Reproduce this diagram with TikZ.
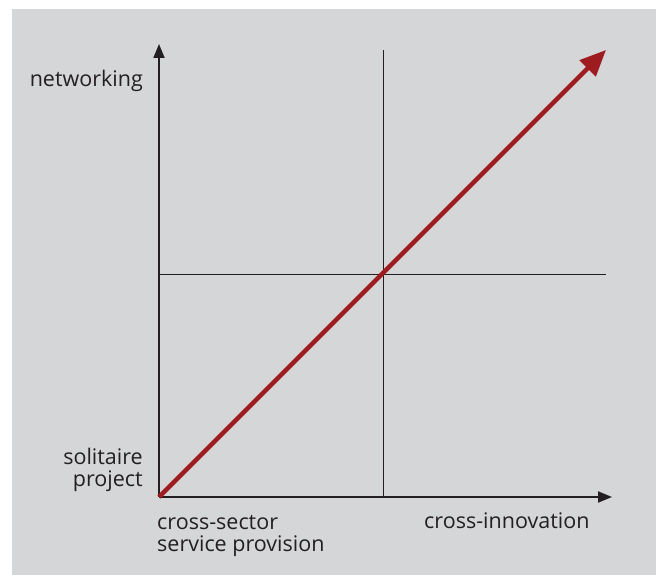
\documentclass[tikz,border=0pt]{standalone}
\usepackage{fontspec}
\setmainfont{Open Sans}
\usetikzlibrary{arrows.meta}
\definecolor{bggray}{HTML}{D5D6D8}
\definecolor{ink}{HTML}{231F20}
\definecolor{darkred}{HTML}{9E1B20}
\begin{document}
\begin{tikzpicture}[x=1bp,y=-1bp,
  axis/.style={draw=ink,line width=2bp,-{Triangle[length=14bp,width=11bp]}},
  grid line/.style={draw=ink,line width=1bp},
  trend/.style={draw=darkred,line width=4.5bp,-{Triangle[length=26bp,width=22bp]}},
  lbl/.style={inner sep=0pt,text=ink,font=\fontsize{21.5bp}{21.5bp}\selectfont}]
\useasboundingbox (0,0) rectangle (656,575);
\fill[bggray] (12,9) rectangle (656,575);
\coordinate (O) at (159,497);
\coordinate (X) at (612,497);
\coordinate (Y) at (159,44);
\coordinate (C) at (383,274);
\coordinate (vtop) at (383,50);
\coordinate (hend) at (606,274);
\coordinate (T) at (606,50);
\draw[grid line] (vtop) -- (vtop |- O);
\draw[grid line] (O |- C) -- (hend);
\draw[axis] (O) -- (X);
\draw[axis] (O) -- (Y);
\draw[trend] (O) -- (T);
\node[lbl,anchor=base east] (net) at (143,87) {networking};
\node[lbl,anchor=base east,align=right] (sol) at (143,486) {solitaire\\project};
\node[lbl,anchor=base west,align=left] (css) at (157,551) {cross-sector\\service provision};
\node[lbl,anchor=base west] (ci) at (424,528) {cross-innovation};
\end{tikzpicture}
\end{document}
